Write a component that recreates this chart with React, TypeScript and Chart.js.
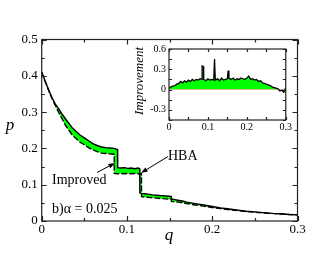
import React, { useEffect, useRef } from "react";
import { Chart, registerables } from "chart.js";
Chart.register(...registerables);

// ---- data ----
const qMain = [0, 0.004, 0.008, 0.012, 0.016, 0.02, 0.024, 0.028, 0.032, 0.036, 0.04, 0.045, 0.05, 0.055, 0.06, 0.065, 0.07, 0.075, 0.08, 0.085, 0.0851, 0.089, 0.0891, 0.093, 0.097, 0.101, 0.105, 0.109, 0.113, 0.115, 0.1151, 0.117, 0.1171, 0.121, 0.125, 0.13, 0.135, 0.14, 0.145, 0.15, 0.152, 0.1521, 0.156, 0.16, 0.165, 0.17, 0.175, 0.18, 0.19, 0.2, 0.21, 0.22, 0.23, 0.24, 0.25, 0.26, 0.27, 0.28, 0.29, 0.3];
const pImproved = [0.41, 0.386, 0.362, 0.34, 0.322, 0.309, 0.294, 0.281, 0.269, 0.256, 0.247, 0.237, 0.229, 0.221, 0.213, 0.208, 0.204, 0.202, 0.201, 0.2, 0.2, 0.197, 0.147, 0.146, 0.147, 0.145, 0.146, 0.144, 0.146, 0.144, 0.077, 0.076, 0.076, 0.075, 0.074, 0.072, 0.071, 0.07, 0.069, 0.068, 0.067, 0.061, 0.059, 0.057, 0.055, 0.052, 0.05, 0.048, 0.044, 0.04, 0.036, 0.033, 0.03, 0.027, 0.025, 0.023, 0.021, 0.02, 0.018, 0.017];
const pHBA = [0.41, 0.385, 0.36, 0.338, 0.318, 0.299, 0.281, 0.263, 0.25, 0.236, 0.228, 0.217, 0.21, 0.202, 0.196, 0.191, 0.187, 0.186, 0.185, 0.184, 0.131, 0.13, 0.13, 0.131, 0.13, 0.131, 0.13, 0.131, 0.13, 0.13, 0.13, 0.13, 0.067, 0.066, 0.065, 0.064, 0.063, 0.062, 0.061, 0.06, 0.06, 0.054, 0.053, 0.052, 0.05, 0.048, 0.046, 0.044, 0.041, 0.037, 0.034, 0.031, 0.029, 0.026, 0.024, 0.022, 0.021, 0.019, 0.018, 0.017];

const qInset = [0, 0.005, 0.01, 0.015, 0.02, 0.025, 0.03, 0.035, 0.04, 0.045, 0.05, 0.055, 0.06, 0.065, 0.07, 0.075, 0.08, 0.085, 0.0851, 0.089, 0.0891, 0.095, 0.1, 0.105, 0.11, 0.115, 0.117, 0.119, 0.125, 0.13, 0.135, 0.14, 0.145, 0.15, 0.152, 0.154, 0.16, 0.165, 0.17, 0.175, 0.18, 0.185, 0.19, 0.195, 0.2, 0.205, 0.21, 0.215, 0.22, 0.225, 0.23, 0.235, 0.24, 0.245, 0.25, 0.255, 0.26, 0.265, 0.27, 0.275, 0.28, 0.285, 0.29, 0.295, 0.3];
const improvement = [0.02, 0.04, 0.05, 0.06, 0.08, 0.09, 0.12, 0.1, 0.13, 0.11, 0.14, 0.12, 0.15, 0.13, 0.15, 0.14, 0.16, 0.15, 0.35, 0.34, 0.15, 0.13, 0.16, 0.14, 0.15, 0.14, 0.45, 0.14, 0.16, 0.13, 0.17, 0.14, 0.15, 0.16, 0.28, 0.17, 0.15, 0.17, 0.14, 0.16, 0.15, 0.17, 0.16, 0.15, 0.17, 0.2, 0.15, 0.16, 0.14, 0.15, 0.12, 0.13, 0.1, 0.09, 0.08, 0.07, 0.06, 0.04, 0.03, 0.02, 0.01, -0.02, -0.01, -0.04, 0.03];

const mainXTicks = [0, 0.1, 0.2, 0.3];
const mainYTicks = [0, 0.1, 0.2, 0.3, 0.4, 0.5];
const insetXTicks = [0, 0.1, 0.2, 0.3];
const insetYTicks = [-0.3, 0, 0.3, 0.6];

const SERIF = '"Liberation Serif", "Times New Roman", serif';
const GREEN = "#00ff00";

function fmt(v: number) {
  const r = Math.round(v * 100) / 100;
  return r === 0 ? "0" : String(r);
}

function frameTicks(id: string, xStep: number, yStep: number, xMajor: number[], yMajor: number[], majLen: number, minLen: number) {
  return {
    id,
    afterDraw(chart: any) {
      const { ctx, chartArea: a, scales } = chart;
      const xs = scales.x, ys = scales.y;
      ctx.save();
      ctx.strokeStyle = "#222";
      ctx.lineWidth = 1.2;
      ctx.strokeRect(a.left, a.top, a.right - a.left, a.bottom - a.top);
      ctx.beginPath();
      const isMaj = (v: number, arr: number[]) => arr.some((m) => Math.abs(m - v) < 1e-6);
      for (let v = xs.min; v <= xs.max + 1e-9; v += xStep) {
        const px = Math.round(xs.getPixelForValue(v)) + 0.5;
        const L = isMaj(v, xMajor) ? majLen : minLen;
        ctx.moveTo(px, a.bottom); ctx.lineTo(px, a.bottom - L);
        ctx.moveTo(px, a.top); ctx.lineTo(px, a.top + L);
      }
      const start = Math.ceil(ys.min / yStep - 1e-6) * yStep;
      for (let v = start; v <= ys.max + 1e-9; v += yStep) {
        const py = Math.round(ys.getPixelForValue(v)) + 0.5;
        const L = isMaj(v, yMajor) ? majLen : minLen;
        ctx.moveTo(a.left, py); ctx.lineTo(a.left + L, py);
        ctx.moveTo(a.right, py); ctx.lineTo(a.right - L, py);
      }
      ctx.stroke();
      ctx.restore();
    },
  };
}

function arrow(ctx: CanvasRenderingContext2D, x1: number, y1: number, x2: number, y2: number) {
  const ang = Math.atan2(y2 - y1, x2 - x1);
  ctx.beginPath();
  ctx.moveTo(x1, y1);
  ctx.lineTo(x2 - 4 * Math.cos(ang), y2 - 4 * Math.sin(ang));
  ctx.stroke();
  ctx.beginPath();
  ctx.moveTo(x2, y2);
  ctx.lineTo(x2 - 7 * Math.cos(ang - 0.35), y2 - 7 * Math.sin(ang - 0.35));
  ctx.lineTo(x2 - 7 * Math.cos(ang + 0.35), y2 - 7 * Math.sin(ang + 0.35));
  ctx.closePath();
  ctx.fill();
}

const mainText = {
  id: "mainText",
  afterDraw(chart: any) {
    const ctx = chart.ctx as CanvasRenderingContext2D;
    ctx.save();
    ctx.fillStyle = "#000";
    ctx.strokeStyle = "#000";
    ctx.lineWidth = 1;
    ctx.font = `italic 17px ${SERIF}`;
    ctx.textAlign = "center";
    ctx.textBaseline = "middle";
    ctx.fillText("p", 10, 126);
    ctx.fillText("q", 169, 236);
    ctx.font = `14px ${SERIF}`;
    ctx.textAlign = "left";
    ctx.textBaseline = "alphabetic";
    ctx.fillText("Improved", 52, 184);
    ctx.fillText("b)\u03b1 = 0.025", 52, 213);
    ctx.fillText("HBA", 168, 160);
    arrow(ctx, 97, 172.5, 115, 163);
    arrow(ctx, 168, 156.5, 141, 173);
    ctx.restore();
  },
};

const insetText = {
  id: "insetText",
  afterDraw(chart: any) {
    const ctx = chart.ctx as CanvasRenderingContext2D;
    ctx.save();
    ctx.fillStyle = "#000";
    ctx.font = `italic 13px ${SERIF}`;
    ctx.textAlign = "center";
    ctx.textBaseline = "middle";
    ctx.translate(12, 41);
    ctx.rotate(-Math.PI / 2);
    ctx.fillText("Improvement", 0, 0);
    ctx.restore();
  },
};

export default function App() {
  const mainRef = useRef<HTMLCanvasElement>(null);
  const insetRef = useRef<HTMLCanvasElement>(null);

  useEffect(() => {
    const main = new Chart(mainRef.current!, {
      type: "line",
      data: {
        datasets: [
          {
            label: "HBA",
            data: qMain.map((q, i) => ({ x: q, y: pHBA[i] })),
            borderColor: "#000",
            borderWidth: 1.4,
            borderDash: [6, 2],
            pointRadius: 0,
            fill: false,
          },
          {
            label: "Improved",
            data: qMain.map((q, i) => ({ x: q, y: pImproved[i] })),
            borderColor: "#000",
            borderWidth: 1.4,
            pointRadius: 0,
            backgroundColor: GREEN,
            fill: "-1",
          },
        ],
      },
      options: {
        animation: false,
        responsive: false,
        layout: { padding: { top: 39.5, right: 37.5, left: 0, bottom: 0 } },
        plugins: { legend: { display: false }, tooltip: { enabled: false }, filler: { drawTime: "beforeDatasetsDraw" } as any },
        scales: {
          x: {
            type: "linear",
            min: 0,
            max: 0.3,
            afterBuildTicks: (s: any) => { s.ticks = mainXTicks.map((v) => ({ value: v })); },
            afterFit: (s: any) => { s.height = 38; },
            grid: { display: false, drawTicks: false },
            border: { display: false },
            ticks: { padding: 1, color: "#000", font: { family: SERIF, size: 13 }, callback: (v: any) => fmt(v), maxRotation: 0 },
          },
          y: {
            type: "linear",
            min: 0,
            max: 0.5,
            afterBuildTicks: (s: any) => { s.ticks = mainYTicks.map((v) => ({ value: v })); },
            afterFit: (s: any) => { s.width = 41.7; },
            grid: { display: false, drawTicks: false },
            border: { display: false },
            ticks: { padding: 4, color: "#000", font: { family: SERIF, size: 13 }, callback: (v: any) => fmt(v) },
          },
        },
      },
      plugins: [frameTicks("mainFrame", 0.05, 0.05, mainXTicks, mainYTicks, 5, 3), mainText],
    });

    const inset = new Chart(insetRef.current!, {
      type: "line",
      data: {
        datasets: [
          {
            label: "Improvement",
            data: qInset.map((q, i) => ({ x: q, y: improvement[i] })),
            borderColor: "#000",
            borderWidth: 1.3,
            pointRadius: 0,
            fill: { target: { value: 0 }, above: GREEN, below: "#ff0000" },
          },
        ],
      },
      options: {
        animation: false,
        responsive: false,
        layout: { padding: { top: 7, right: 4, left: 0, bottom: 0 } },
        plugins: { legend: { display: false }, tooltip: { enabled: false } },
        scales: {
          x: {
            type: "linear",
            min: 0,
            max: 0.3,
            afterBuildTicks: (s: any) => { s.ticks = insetXTicks.map((v) => ({ value: v })); },
            afterFit: (s: any) => { s.height = 15; },
            grid: { display: false, drawTicks: false },
            border: { display: false },
            ticks: { padding: 1, color: "#000", font: { family: SERIF, size: 10 }, callback: (v: any) => fmt(v), maxRotation: 0 },
          },
          y: {
            type: "linear",
            min: -0.45,
            max: 0.6,
            afterBuildTicks: (s: any) => { s.ticks = insetYTicks.map((v) => ({ value: v })); },
            afterFit: (s: any) => { s.width = 41; },
            grid: { display: false, drawTicks: false },
            border: { display: false },
            ticks: { padding: 3, color: "#000", font: { family: SERIF, size: 10 }, callback: (v: any) => fmt(v) },
          },
        },
      },
      plugins: [frameTicks("insetFrame", 0.05, 0.15, insetXTicks, insetYTicks, 3, 3), insetText],
    });

    return () => {
      main.destroy();
      inset.destroy();
    };
  }, []);

  return (
    <div style={{ position: "absolute", left: 0, top: 0, width: 335, height: 259, background: "#fff" }}>
      <canvas ref={mainRef} width={335} height={259} style={{ position: "absolute", left: 0, top: 0, width: 335, height: 259 }} />
      <canvas ref={insetRef} width={165} height={95} style={{ position: "absolute", left: 128, top: 40, width: 165, height: 95 }} />
    </div>
  );
}
